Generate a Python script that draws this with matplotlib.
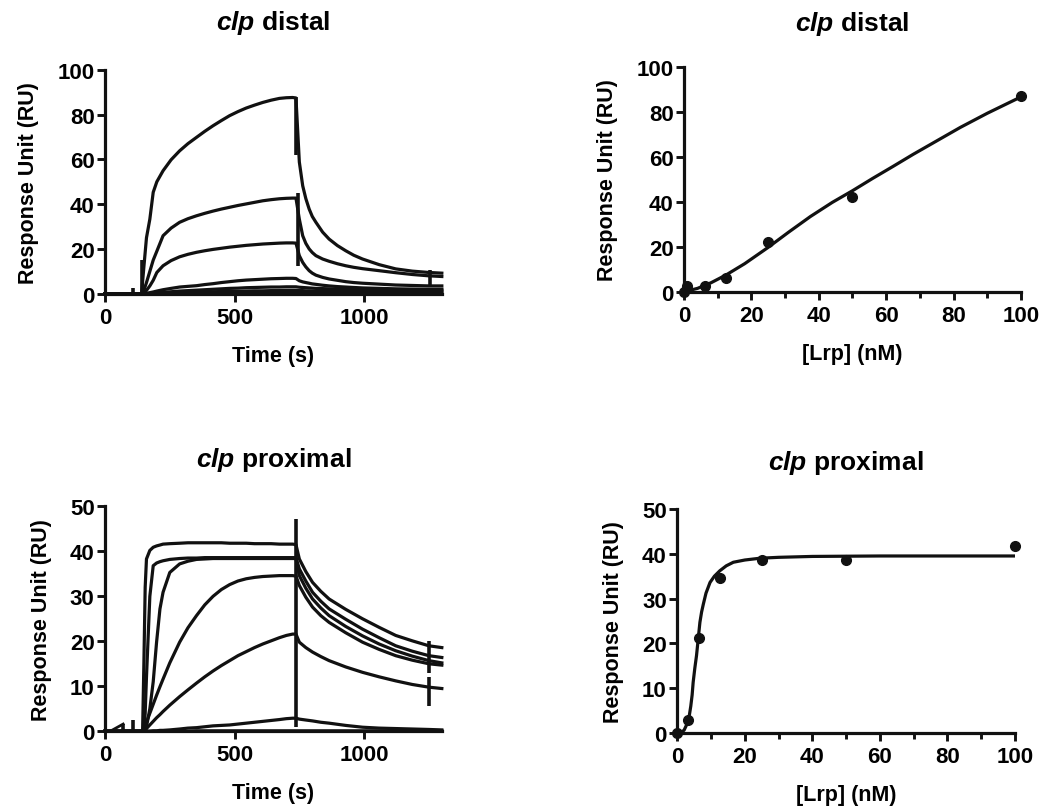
import numpy as np
import matplotlib
matplotlib.use("Agg")
import matplotlib.pyplot as plt
from matplotlib.ticker import MultipleLocator

plt.rcParams['font.family'] = ['Liberation Sans', 'DejaVu Sans']
plt.rcParams['font.weight'] = 'bold'
plt.rcParams['axes.labelweight'] = 'bold'
plt.rcParams['axes.titleweight'] = 'bold'
plt.rcParams['mathtext.fontset'] = 'custom'
plt.rcParams['mathtext.it'] = 'Liberation Sans:italic:bold'
plt.rcParams['mathtext.rm'] = 'Liberation Sans:bold'

# --- sensorgrammes clp distal (temps en s, reponse en RU) ---
t_dist = [0, 141, 150, 160, 173, 186, 200, 224, 255, 288, 320, 353, 385, 417, 449, 481,
          513, 545, 577, 609, 641, 673, 700, 724, 737,
          750, 763, 775, 788, 800, 814, 840, 865, 897, 929, 960, 994, 1058, 1122, 1186, 1250, 1300]
dist_100 = [0, 0, 12, 25, 33.3, 45.3, 50, 54.9, 59.8, 63.8, 67, 69.8, 72.5, 75, 77.3, 79.5,
            81.3, 82.9, 84.2, 85.4, 86.4, 87.2, 87.5, 87.6, 87.4,
            58.8, 48.2, 42.5, 37.8, 34.5, 31.9, 27.5, 24.4, 21.5, 19.2, 17.2, 15.5, 13, 11.1, 10.1, 9.5, 9.2]
dist_50 = [0, 0, 1.5, 5, 10, 15, 19, 25.9, 29.3, 31.9, 33.5, 34.8, 35.9, 36.9, 37.8, 38.6,
           39.4, 40.1, 40.8, 41.5, 42, 42.4, 42.6, 42.7, 42.7,
           33.3, 25.9, 22.5, 20, 18.4, 17, 15.5, 14.5, 13.4, 12.5, 11.8, 11.2, 10.3, 9.4, 8.6, 8, 7.7]
dist_25 = [0, 0, 0.3, 1.5, 3.5, 6, 9.5, 12.5, 14.8, 16.5, 17.6, 18.5, 19.2, 19.8, 20.3, 20.8,
           21.2, 21.6, 21.9, 22.2, 22.4, 22.6, 22.7, 22.7, 22.6,
           17, 14, 12, 10.3, 9.2, 8.3, 7.3, 6.6, 6, 5.4, 5, 4.7, 4.3, 3.9, 3.7, 3.5, 3.5]
dist_12 = [0, 0, 0, 0.2, 0.5, 0.8, 1.2, 1.8, 2.4, 3, 3.3, 3.6, 4.1, 4.5, 5, 5.4,
           5.8, 6.1, 6.3, 6.5, 6.7, 6.8, 6.9, 6.9, 6.8,
           5.8, 5.3, 5, 4.7, 4.4, 4.2, 3.8, 3.5, 3.2, 3, 2.8, 2.6, 2.4, 2.2, 2.1, 2, 2]
dist_6 = [0, 0, 0, 0, 0.1, 0.2, 0.4, 0.6, 0.9, 1.2, 1.4, 1.6, 1.8, 2, 2.2, 2.4,
          2.5, 2.7, 2.8, 2.9, 3, 3, 3.1, 3.1, 3.1,
          2.9, 2.8, 2.7, 2.6, 2.5, 2.4, 2.3, 2.2, 2.1, 2, 1.9, 1.9, 1.8, 1.7, 1.7, 1.6, 1.6]
dist_3 = [0, 0, 0, 0, 0, 0.1, 0.1, 0.2, 0.4, 0.5, 0.6, 0.7, 0.8, 0.9, 1, 1.1,
          1.1, 1.2, 1.3, 1.3, 1.4, 1.4, 1.5, 1.5, 1.5,
          1.4, 1.4, 1.3, 1.3, 1.2, 1.2, 1.1, 1.1, 1, 1, 1, 0.9, 0.9, 0.8, 0.8, 0.8, 0.8]
dist_0 = [0, 0, 0, 0, 0, 0, 0, 0.1, 0.1, 0.1, 0.2, 0.2, 0.2, 0.2, 0.3, 0.3,
          0.3, 0.3, 0.3, 0.4, 0.4, 0.4, 0.4, 0.4, 0.4,
          0.4, 0.4, 0.3, 0.3, 0.3, 0.3, 0.3, 0.3, 0.3, 0.3, 0.3, 0.3, 0.3, 0.3, 0.3, 0.3, 0.3]
# artefacts d'injection : (temps, bas, haut)
spk_dist = [(109, 0, 2.4), (141, 0, 15), (737, 62, 88), (745, 12.5, 45), (1256, 3, 10.5)]

# --- sensorgrammes clp proximal ---
t_prox = [0, 145, 150, 155, 160, 173, 186, 199, 212, 224, 250, 288, 320, 353, 385, 417, 449,
          481, 513, 545, 577, 609, 641, 673, 700, 724, 737,
          750, 775, 801, 833, 865, 929, 994, 1058, 1122, 1186, 1250, 1300]
prox_100 = [0, 0, 15, 32, 38.3, 40.2, 40.9, 41.2, 41.4, 41.6, 41.7, 41.8, 41.9, 41.9, 41.9, 41.9, 41.9,
            41.8, 41.8, 41.8, 41.7, 41.7, 41.7, 41.6, 41.6, 41.6, 41.5,
            38.3, 35.5, 33.1, 31.1, 29.4, 27.1, 25, 23.1, 21.3, 20.1, 19, 18.6]
prox_50 = [0, 0, 0, 4, 12, 30, 36.8, 37.4, 37.7, 37.9, 38.2, 38.4, 38.5, 38.5, 38.6, 38.6, 38.6,
           38.6, 38.6, 38.6, 38.6, 38.6, 38.6, 38.6, 38.6, 38.6, 38.6,
           36.1, 33.4, 30.9, 28.9, 27.2, 24.9, 22.7, 20.8, 19, 17.8, 16.8, 16.4]
prox_25 = [0, 0, 0, 0, 1, 5, 11, 19.8, 27.2, 30.9, 35.3, 37.2, 37.8, 38.2, 38.3, 38.4, 38.4,
           38.4, 38.4, 38.4, 38.4, 38.4, 38.4, 38.4, 38.4, 38.4, 38.4,
           34.6, 31.8, 29.4, 27.4, 25.7, 23.3, 21.2, 19.4, 17.9, 16.7, 15.7, 15.2]
prox_12 = [0, 0, 0.4, 1.2, 2, 4, 6, 8, 9.9, 11.6, 15.2, 19.8, 23, 25.7, 28.1, 30, 31.5,
           32.6, 33.4, 33.9, 34.2, 34.4, 34.5, 34.6, 34.6, 34.6, 34.5,
           32.4, 29.8, 27.6, 25.7, 24.2, 21.9, 19.8, 18.2, 16.8, 15.8, 15, 14.7]
prox_6 = [0, 0, 0, 0.3, 0.6, 1.4, 2.2, 3, 3.7, 4.4, 5.8, 7.7, 9.2, 10.7, 12.1, 13.4, 14.6,
          15.7, 16.8, 17.7, 18.6, 19.4, 20.1, 20.8, 21.3, 21.6, 21.6,
          19.8, 18.6, 17.6, 16.6, 15.7, 14.3, 13.1, 12.1, 11.2, 10.4, 9.8, 9.5]
prox_3 = [0, 0, 0, 0, 0, 0, 0.1, 0.1, 0.2, 0.2, 0.3, 0.5, 0.7, 0.8, 1, 1.2, 1.3,
          1.4, 1.6, 1.8, 2, 2.2, 2.4, 2.6, 2.8, 2.9, 2.9,
          2.7, 2.5, 2.3, 2, 1.8, 1.3, 0.9, 0.7, 0.6, 0.5, 0.4, 0.3]
prox_0 = [0, 0, 0, 0, 0, 0, 0, 0, 0, 0, 0, 0, 0, 0.1, 0.1, 0.1, 0.1,
          0.1, 0.1, 0.1, 0.1, 0.1, 0.1, 0.1, 0.1, 0.1, 0.1,
          0.1, 0.1, 0.1, 0.1, 0.1, 0.1, 0.1, 0.1, 0.1, 0.1, 0.1, 0.1]
spk_prox = [(70, 0, 1.6), (109, 0, 2.4), (737, 1, 47.2), (1250, 13, 20), (1250, 5.7, 12)]
art_t = [20, 70]
art_v = [0, 1.6]

# --- reponse a l'equilibre vs [Lrp] ---
lrp_dist = [0, 0.8, 6.25, 12.5, 25, 50, 100]
ru_dist = [0, 2.7, 2.4, 5.9, 22.3, 42, 87]
fit_dist_x = [0, 4, 8, 12.5, 18, 25, 31, 37.5, 44, 50, 56, 62, 68, 75, 82, 90, 100]
fit_dist_y = [0, 1.5, 4, 7.5, 12.5, 19.8, 26.5, 33.5, 39.8, 45, 50.5, 55.8, 61.2, 67.2, 73.2, 79.5, 86.8]

lrp_prox = [0, 3.26, 6.4, 12.6, 25, 50, 100]
ru_prox = [0, 2.9, 21.2, 34.5, 38.5, 38.6, 41.7]
fit_prox_x = [0, 1, 2, 3, 3.5, 4, 4.4, 4.7, 5.2, 5.7, 6.2, 6.7, 7.2, 7.7, 8.5, 9.7,
              11, 12.6, 14.5, 16.6, 20, 24.5, 30, 40, 60, 100]
fit_prox_y = [0, 0.1, 0.6, 2.2, 3.6, 6, 8.5, 11.3, 14.5, 17.3, 21, 24.7, 27, 28.7, 31.2, 33.6,
              35, 36.2, 37.3, 38.1, 38.6, 39, 39.2, 39.4, 39.5, 39.5]

INK = '#111111'
fig = plt.figure(figsize=(10.46, 8.12), dpi=100)


def style(ax, xmax, ymax, xmaj, ymaj, xmin=None):
    ax.set_xlim(0, xmax)
    ax.set_ylim(0, ymax)
    for s in ['top', 'right']:
        ax.spines[s].set_visible(False)
    for s in ['left', 'bottom']:
        ax.spines[s].set_linewidth(2.3)
        ax.spines[s].set_color(INK)
    ax.xaxis.set_major_locator(MultipleLocator(xmaj))
    ax.yaxis.set_major_locator(MultipleLocator(ymaj))
    if xmin:
        ax.xaxis.set_minor_locator(MultipleLocator(xmin))
        ax.tick_params(axis='x', which='minor', length=4.5, width=2.1, color=INK)
    ax.tick_params(which='major', length=5.5, width=2.1, color=INK, labelsize=16)
    ax.tick_params(axis='x', pad=4)
    ax.tick_params(axis='y', pad=2)
    ax.set_ylabel('Response Unit (RU)', fontsize=15.5, labelpad=13)


def titre(ax, name, pad=29):
    ax.set_title(r'$\it{clp}$ ' + name, fontsize=19, pad=pad)


# [Haut Gauche] distal sensorgrammes
ax1 = fig.add_axes([0.1004, 0.637, 0.322, 0.2759])
for v in [dist_100, dist_50, dist_25, dist_12, dist_6, dist_3, dist_0]:
    ax1.plot(t_dist, v, color=INK, lw=2.3, clip_on=False)
for t, lo, hi in spk_dist:
    ax1.vlines(t, lo, hi, color=INK, lw=2.6)
style(ax1, 1300, 100, 500, 20)
ax1.set_xlabel('Time (s)', fontsize=15.5, labelpad=12)
titre(ax1, 'distal')

# [Haut Droite] distal liaison
ax2 = fig.add_axes([0.654, 0.6395, 0.322, 0.2764])
ax2.plot(fit_dist_x, fit_dist_y, color=INK, lw=2.3)
ax2.plot(lrp_dist, ru_dist, 'o', color=INK, ms=7, clip_on=False)
style(ax2, 100, 100, 20, 20, 10)
ax2.set_xlabel('[Lrp] (nM)', fontsize=15.5, labelpad=12)
titre(ax2, 'distal', pad=27)

# [Bas Gauche] proximal sensorgrammes
ax3 = fig.add_axes([0.1004, 0.0982, 0.322, 0.277])
for v in [prox_100, prox_50, prox_25, prox_12, prox_6, prox_3, prox_0]:
    ax3.plot(t_prox, v, color=INK, lw=2.3, clip_on=False)
for t, lo, hi in spk_prox:
    ax3.vlines(t, lo, hi, color=INK, lw=2.6)
ax3.plot(art_t, art_v, color=INK, lw=2)
style(ax3, 1300, 50, 500, 10)
ax3.set_xlabel('Time (s)', fontsize=15.5, labelpad=12)
titre(ax3, 'proximal')

# [Bas Droite] proximal liaison
ax4 = fig.add_axes([0.6475, 0.0961, 0.3228, 0.2759])
ax4.plot(fit_prox_x, fit_prox_y, color=INK, lw=2.3)
ax4.plot(lrp_prox, ru_prox, 'o', color=INK, ms=7, clip_on=False)
style(ax4, 100, 50, 20, 10, 10)
ax4.set_xlabel('[Lrp] (nM)', fontsize=15.5, labelpad=12)
titre(ax4, 'proximal')

fig.savefig('out.png', dpi=100)
